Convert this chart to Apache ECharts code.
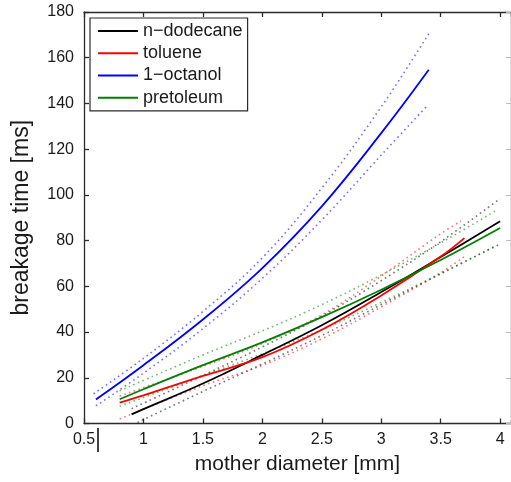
<!DOCTYPE html>
<html>
<head>
<meta charset="utf-8">
<script src="https://cdn.jsdelivr.net/npm/echarts@6/dist/echarts.min.js"></script>
<style>
  html, body { margin: 0; padding: 0; background: #fff; }
  #chart { width: 511px; height: 482px; }
</style>
</head>
<body>
<div id="chart"></div>
<script>
// Breakage time vs. mother diameter: fitted curves (solid) with bounds (dotted)
const seriesNames = ['n\u2212dodecane', 'toluene', '1\u2212octanol', 'pretoleum'];
const xTickLabels = ['0.5', '1', '1.5', '2', '2.5', '3', '3.5', '4'];
const yTickLabels = ['0', '20', '40', '60', '80', '100', '120', '140', '160', '180'];

// n-dodecane
const dodecaneX = [0.9, 1.0, 1.5, 2.0, 2.5, 3.0, 3.5, 4.0];
const dodecaneFit = [4.0, 6.3, 17.5, 30, 43, 57.5, 72.8, 88.5];
const dodecaneUpX = [0.9, 1.5, 2.0, 2.5, 3.0, 3.5, 4.0];
const dodecaneUp = [6.5, 21, 33.5, 47, 62.5, 79.5, 98.4];
const dodecaneLoX = [0.95, 1.5, 2.0, 2.5, 3.0, 3.5, 4.0];
const dodecaneLo = [0.5, 14, 26, 38.5, 52, 65.5, 78.5];

// toluene
const tolueneX = [0.8, 1.0, 1.5, 2.0, 2.5, 3.0, 3.5, 3.7];
const tolueneFit = [9.1, 12.3, 20.8, 29, 41, 56, 73, 81.1];
const tolueneUpX = [0.8, 1.5, 2.0, 2.5, 3.0, 3.5, 3.67];
const tolueneUp = [12, 25, 35, 47.5, 64.5, 83, 88.5];
const tolueneLoX = [0.8, 1.5, 2.0, 2.5, 3.0, 3.5, 3.7];
const tolueneLo = [2, 16.5, 25.5, 37, 51, 66, 73];

// 1-octanol
const octanolX = [0.6, 1.0, 1.5, 2.0, 2.5, 3.0, 3.4];
const octanolFit = [10.5, 25.5, 45.5, 68, 95, 127, 154.7];
const octanolUpX = [0.58, 1.0, 1.5, 2.0, 2.5, 3.0, 3.4];
const octanolUp = [13, 28.5, 49, 72.5, 103, 138.5, 170.5];
const octanolLoX = [0.6, 1.0, 1.5, 2.0, 2.5, 3.0, 3.38];
const octanolLo = [7.7, 22, 41.5, 63.5, 89, 117.4, 138.6];

// pretoleum
const pretoleumX = [0.8, 1.0, 1.5, 2.0, 2.5, 3.0, 3.5, 4.0];
const pretoleumFit = [10.6, 15, 25.5, 35.5, 46.5, 58.5, 71.5, 85.5];
const pretoleumUpX = [0.8, 1.5, 2.0, 2.5, 3.0, 3.5, 3.97];
const pretoleumUp = [14.3, 30, 40.5, 52, 65, 79, 93.3];
const pretoleumLoX = [0.8, 1.5, 2.0, 2.5, 3.0, 3.5, 3.97];
const pretoleumLo = [7.5, 21, 30.5, 41, 53, 65.5, 77.9];

const zip = (xs, ys) => xs.map((x, i) => [x, ys[i]]);
const colors = ['#000000', '#ff0000', '#0000ff', '#008000'];
const fits = [
  [dodecaneX, dodecaneFit], [tolueneX, tolueneFit],
  [octanolX, octanolFit], [pretoleumX, pretoleumFit]
];
const bounds = [
  [[dodecaneUpX, dodecaneUp], [dodecaneLoX, dodecaneLo]],
  [[tolueneUpX, tolueneUp], [tolueneLoX, tolueneLo]],
  [[octanolUpX, octanolUp], [octanolLoX, octanolLo]],
  [[pretoleumUpX, pretoleumUp], [pretoleumLoX, pretoleumLo]]
];

const FONT = 'Liberation Sans, Arial, Helvetica, sans-serif';
const series = [];
bounds.forEach((pair, i) => {
  pair.forEach((b, j) => {
    series.push({
      name: seriesNames[i] + (j === 0 ? ' upper' : ' lower'),
      type: 'line', xAxisIndex: 0, yAxisIndex: 0,
      data: zip(b[0], b[1]), smooth: 0.4, symbol: 'none', silent: true,
      lineStyle: { color: colors[i], width: 1.6, type: [1.6, 3.4], opacity: 0.55 },
      z: 2
    });
  });
});
fits.forEach((f, i) => {
  series.push({
    name: seriesNames[i], type: 'line', xAxisIndex: 0, yAxisIndex: 0,
    data: zip(f[0], f[1]), smooth: 0.4, symbol: 'none',
    lineStyle: { color: colors[i], width: 1.8 },
    itemStyle: { color: colors[i] },
    z: 3
  });
});

const axisLineStyle = { color: '#2b2b2b', width: 1.3 };
const grid = { left: 84, top: 12, width: 431, height: 411.5 };
const xBase = { type: 'value', min: 0.5, max: 4.0917, interval: 0.5 };
const yBase = { type: 'value', min: 0, max: 180, interval: 20 };

const chart = echarts.init(document.getElementById('chart'), null, { renderer: 'canvas' });
chart.setOption({
  animation: false,
  backgroundColor: '#ffffff',
  grid: grid,
  legend: {
    data: seriesNames, orient: 'vertical', left: 90, top: 18,
    icon: 'rect', itemWidth: 40, itemHeight: 2, itemGap: 2,
    padding: [3, 5, 3, 8],
    borderColor: '#2b2b2b', borderWidth: 1.2, backgroundColor: '#fff',
    textStyle: { fontFamily: FONT, fontSize: 18, color: '#1a1a1a', lineHeight: 20.2 }
  },
  xAxis: [
    Object.assign({}, xBase, {
      position: 'bottom',
      name: 'mother diameter [mm]', nameLocation: 'middle', nameGap: 30,
      nameTextStyle: { fontFamily: FONT, fontSize: 21, color: '#1a1a1a' },
      axisLine: { show: true, onZero: false, lineStyle: axisLineStyle },
      axisTick: { show: true, inside: true, length: 5, lineStyle: axisLineStyle },
      axisLabel: {
        fontFamily: FONT, fontSize: 16, color: '#1a1a1a', margin: 8,
        showMaxLabel: false,
        formatter: v => xTickLabels.find(t => Math.abs(parseFloat(t) - v) < 1e-9) || ''
      },
      splitLine: { show: false }
    }),
    Object.assign({}, xBase, {
      position: 'top',
      axisLine: { show: true, onZero: false, lineStyle: axisLineStyle },
      axisTick: { show: true, inside: true, length: 5, lineStyle: axisLineStyle },
      axisLabel: { show: false }, splitLine: { show: false }
    })
  ],
  yAxis: [
    Object.assign({}, yBase, {
      position: 'left',
      name: 'breakage time [ms]', nameLocation: 'middle', nameGap: 51,
      nameTextStyle: { fontFamily: FONT, fontSize: 23, color: '#1a1a1a' },
      axisLine: { show: true, onZero: false, lineStyle: axisLineStyle },
      axisTick: { show: true, inside: true, length: 5, lineStyle: axisLineStyle },
      axisLabel: {
        fontFamily: FONT, fontSize: 16, color: '#1a1a1a', margin: 10,
        formatter: v => yTickLabels.find(t => Math.abs(parseFloat(t) - v) < 1e-9) || ''
      },
      splitLine: { show: false }
    }),
    Object.assign({}, yBase, {
      position: 'right',
      axisLine: { show: true, onZero: false, lineStyle: axisLineStyle },
      axisTick: { show: true, inside: true, length: 5, lineStyle: { color: '#bbbbbb', width: 1 } },
      axisLabel: { show: false }, splitLine: { show: false }
    })
  ],
  graphic: [
    // short vertical stroke beside the first x tick label
    { type: 'line', shape: { x1: 98, y1: 428, x2: 98, y2: 452 },
      style: { stroke: '#000', lineWidth: 1.5 }, silent: true }
  ],
  series: series
});
</script>
</body>
</html>
